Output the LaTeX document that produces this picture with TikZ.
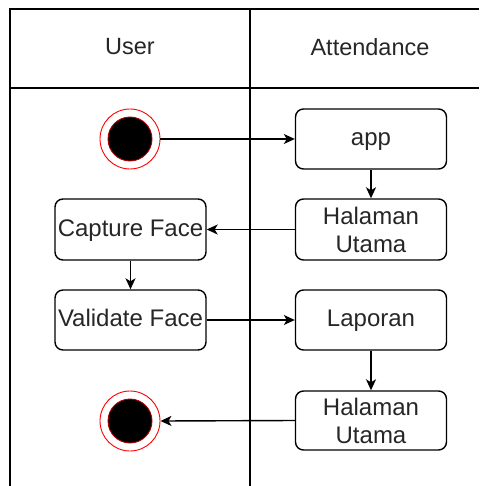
\documentclass[tikz,border=0pt]{standalone}
\usepackage{fontspec}
\setmainfont{Liberation Sans}
\usetikzlibrary{arrows.meta}
\definecolor{txt}{HTML}{262626}
\begin{document}
\begin{tikzpicture}[x=1pt,y=-1pt,
  line width=1.4pt,
  act/.style={draw, rounded corners=8pt, minimum width=151pt, minimum height=60pt, inner sep=0pt,
    align=center, text=txt, font=\fontsize{24}{28}\selectfont},
  oneline/.style={text height=18.5pt, text depth=5pt},
  lbl/.style={text=txt, font=\fontsize{23.5}{28}\selectfont, inner sep=0pt},
  flow/.style={-{Stealth[length=11pt,width=10pt,inset=3pt]}, line width=1.4pt},
  endring/.style={circle, draw=red, line width=0.9pt, minimum size=60pt, inner sep=0pt},
  enddot/.style={circle, draw=red!70!black, fill=black, line width=0.9pt, minimum size=44pt, inner sep=0pt}]
\useasboundingbox (0,0) rectangle (479,486);
% swimlanes
\draw[line width=1.6pt] (10,486) -- (10,9) -- (479,9);
\draw[line width=1.6pt] (10,88) -- (479,88);
\draw[line width=1.6pt] (250,9) -- (250,486);
\node[lbl] (huser) at (130,47) {User};
\node[lbl] (hatt) at (370,47) {Attendance};
% nodes
\node[endring] (start) at (130,139) {};
\node[enddot] (startdot) at (130,139) {};
\node[act, oneline] (app) at (371,139) {app};
\node[act, minimum height=61pt] (hu1) at (371,229.5) {Halaman\\Utama};
\node[act, oneline, minimum height=61pt] (cap) at (130.5,229.5) {Capture Face};
\node[act, oneline] (val) at (130.5,320) {Validate Face};
\node[act, oneline] (lap) at (371,320) {Laporan};
\node[act, minimum height=59pt] (hu2) at (371,420.5) {Halaman\\Utama};
\node[endring] (stop) at (130,421) {};
\node[enddot] (stopdot) at (130,421) {};
% connectors
\draw[flow] (start.east) -- (app.west);
\draw[flow] (app.south) -- (hu1.north);
\draw[flow] (hu1.west) -- (cap.east);
\draw[flow] (cap.south) -- (val.north);
\draw[flow] (val.east) -- (lap.west);
\draw[flow] (lap.south) -- (hu2.north);
\draw[flow] (hu2.west) -- (stop.east);
\end{tikzpicture}
\end{document}
